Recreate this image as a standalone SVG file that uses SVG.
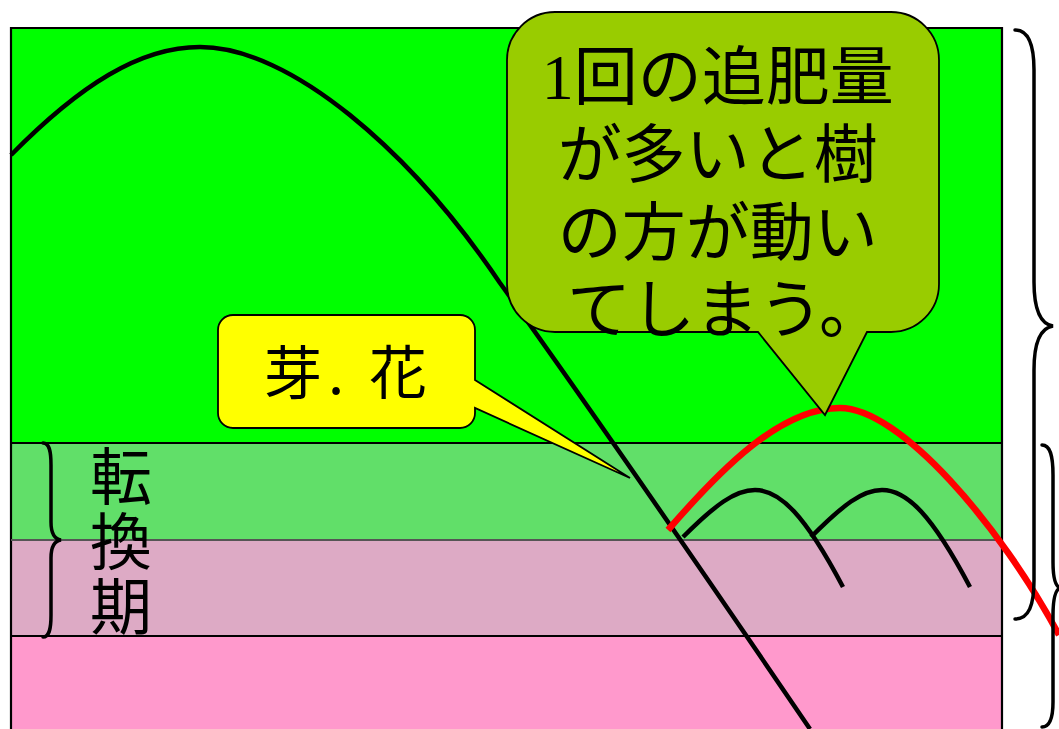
<svg xmlns="http://www.w3.org/2000/svg" width="1059" height="729" viewBox="0 0 1059 729">
<style>
.jp{font-family:"Noto Sans CJK JP","Noto Sans",sans-serif;fill:#000}
.crv{fill:none;stroke:#000;stroke-width:4.5;stroke-linecap:butt}
.brace{fill:none;stroke:#000;stroke-width:3.5;stroke-linecap:round}
.call{stroke:#000;stroke-width:1.8;stroke-linejoin:miter}
</style>
<rect x="0" y="0" width="1059" height="729" fill="#fff"/>
<g id="bands">
<rect x="11" y="28" width="991" height="415" fill="#00ff00"/>
<rect x="11" y="443" width="991" height="97" fill="#61df69"/>
<rect x="11" y="540" width="991" height="96" fill="#ddaac5"/>
<rect x="11" y="636" width="991" height="100" fill="#ff99cc"/>
<path d="M11,740 V28 H1002 V740" fill="none" stroke="#000" stroke-width="2.2"/>
<line x1="11" y1="443" x2="1002" y2="443" stroke="#000" stroke-width="2"/>
<line x1="11" y1="540" x2="1002" y2="540" stroke="#555" stroke-width="2"/>
<line x1="11" y1="636" x2="1002" y2="636" stroke="#000" stroke-width="2"/>
</g>
<g id="connectors">
<path class="crv" d="M11,155 C80,85 140,47 200,47 C290,47 410,150 500,283 Q620,450 810,729"/>
<path class="crv" d="M683,537 C715,505 735,490 755,490 C780,490 805,515 843,587"/>
<path class="crv" d="M811,537 C843,505 862,490 882,490 C907,490 932,515 970,587"/>
<path d="M668,530 C720,470 780,408 840,408 C900,408 1000,525 1059,635" fill="none" stroke="#ff0000" stroke-width="6.5"/>
</g>
<g id="braces">
<path class="brace" d="M1015,30 C1029,30 1034,45 1034,70 L1034,282 C1034,310 1040,324 1053,326 C1040,328 1034,342 1034,370 L1034,580 C1034,605 1029,619 1015,619"/>
<path class="brace" d="M1042,445 C1050,445 1053,455 1053,475 L1053,562 C1053,578 1055,586 1060,588 C1055,590 1053,600 1053,616 L1053,702 C1053,718 1050,727 1042,727"/>
<path class="brace" d="M43,443 C49,443 51,450 51,465 L51,522 C51,533 54,539 61,540 C54,541 51,548 51,558 L51,615 C51,630 49,637 43,637"/>
</g>
<g id="label-tenkanki">
<text class="jp" font-size="62" text-anchor="middle"><tspan x="121" y="500">転</tspan><tspan x="121" y="565">換</tspan><tspan x="121" y="630">期</tspan></text>
</g>
<g id="callout-mehana">
<path class="call" fill="#ffff00" d="M233,315 H460 A15,15 0 0 1 475,330 V380 L630,478 L475,408 V413 A15,15 0 0 1 460,428 H233 A15,15 0 0 1 218,413 V330 A15,15 0 0 1 233,315 Z"/>
<text class="jp" font-size="58" x="264 328 343 369" y="394">芽. 花</text>
</g>
<g id="callout-tsuihi">
<path class="call" fill="#99cc00" d="M555,12 H891 A48,48 0 0 1 939,60 V284 A48,48 0 0 1 891,332 H867 L825,415 L758,332 H555 A48,48 0 0 1 507,284 V60 A48,48 0 0 1 555,12 Z"/>
<text class="jp" font-size="64" text-anchor="middle">
<tspan x="725" y="99"><tspan font-family="Liberation Serif, serif">1</tspan>回の追肥量</tspan>
<tspan x="725" y="177">が多いと樹</tspan>
<tspan x="725" y="255">の方が動い</tspan>
<tspan x="725" y="332">てしまう。</tspan>
</text>
</g>
</svg>
